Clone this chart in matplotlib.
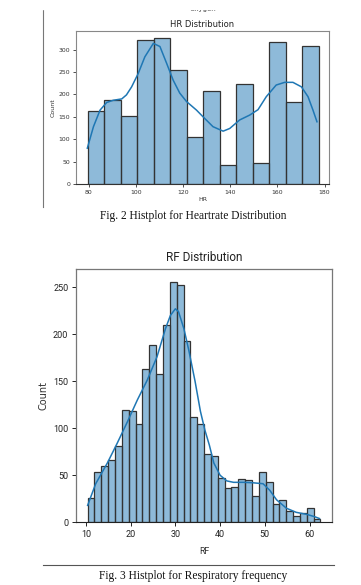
import numpy as np
import matplotlib.pyplot as plt

# HR histogram (14 bins)
hr_edges = [79.5, 86.5, 93.5, 100.5, 107.5, 114.5, 121.5, 128.5, 135.5, 142.5, 149.5, 156.5, 163.5, 170.5, 177.5]
hr_counts = [162, 187, 152, 321, 325, 254, 104, 207, 42, 224, 46, 316, 184, 308]
# HR kde curve
hr_kde_x = [79.4, 82, 84.8, 87.6, 90.4, 94, 96, 98.2, 101, 103.8, 107.4, 110.2, 113, 115.8, 118.6,
            121.5, 125.7, 128.5, 132.7, 137, 139.8, 144, 148.3, 151.8, 155.3, 159.5, 163.1, 166.6,
            170.2, 173, 175.1, 176.8]
hr_kde_y = [80, 128, 165, 182, 187, 190, 199, 217, 247, 284, 314, 307, 270, 232, 203,
            184, 165, 150, 128, 118, 124, 143, 154, 166, 195, 221, 227, 227,
            217, 195, 165, 139]

# RF histogram (34 bins)
rf_lo, rf_width = 10.4, 1.53
rf_counts = [26, 53, 60, 66, 81, 119, 118, 104, 163, 188, 158, 210, 256, 252, 193, 112, 104,
             73, 71, 47, 37, 38, 46, 45, 28, 54, 43, 19, 24, 12, 7, 10, 15, 4]
rf_kde_x = [10.4, 12.2, 14.8, 17.0, 19.3, 21.5, 23.7, 25.9, 27.8, 28.9, 30.0, 30.7, 31.9, 33.0,
            34.4, 35.6, 36.6, 37.6, 38.6, 40.0, 41.5, 43.0, 45.2, 47.4, 49.6, 51.1, 52.6,
            54.8, 57.0, 59.3, 61.1, 62.2]
rf_kde_y = [18, 41, 63, 84, 107, 130, 151, 176, 206, 220, 227, 224, 206, 183,
            150, 118, 98, 82, 63, 50, 44, 42.5, 42.5, 42, 41, 34, 24,
            15, 10.6, 8.5, 6, 4]

W, H = 361, 585
fig = plt.figure(figsize=(W / 100, H / 100), dpi=100)

narrow = 'Roboto'
serif = 'Liberation Serif'

bar_face = (0.122, 0.467, 0.706, 0.5)
bar_edge = '#333333'
line_col = '#1f77b4'


def px_axes(l, t, r, b):
    return fig.add_axes([l / W, 1 - b / H, (r - l) / W, (b - t) / H])


# ---- HR chart ----
ax1 = px_axes(76, 31.3, 329, 184)
ax1.bar(hr_edges[:-1], hr_counts, width=np.diff(hr_edges), align='edge',
        color=bar_face, edgecolor=bar_edge, linewidth=0.9)
ax1.plot(hr_kde_x, hr_kde_y, color=line_col, lw=1.1)
ax1.set_xlim(74.6, 181.9)
ax1.set_ylim(0, 341)
ax1.set_xticks(np.arange(80, 181, 20))
ax1.set_yticks(np.arange(0, 301, 50))
ax1.tick_params(labelsize=4.4, length=2.5, width=0.6, pad=1.5, colors='#333333')
ax1.set_title('HR Distribution', fontsize=6, pad=3, color='#222222')
ax1.set_xlabel('HR', fontsize=4.5, labelpad=2, color='#333333')
ax1.set_ylabel('Count', fontsize=4.5, labelpad=2, color='#333333')
for s in ['top', 'right', 'left']:
    ax1.spines[s].set_color('#888888')
    ax1.spines[s].set_linewidth(0.8)
ax1.spines['bottom'].set_color('#333333')

# ---- RF chart ----
ax2 = px_axes(76, 269.3, 332, 522.3)
rf_left = [rf_lo + i * rf_width for i in range(len(rf_counts))]
ax2.bar(rf_left, rf_counts, width=rf_width, align='edge',
        color=bar_face, edgecolor=bar_edge, linewidth=0.9)
ax2.plot(rf_kde_x, rf_kde_y, color=line_col, lw=1.1)
ax2.set_xlim(7.8, 65.0)
ax2.set_ylim(0, 269)
ax2.set_xticks(np.arange(10, 61, 10))
ax2.set_yticks(np.arange(0, 251, 50))
ax2.tick_params(labelsize=6.5, length=3, width=0.7, pad=2.5, colors='#222222')
for lab in ax2.get_xticklabels() + ax2.get_yticklabels():
    lab.set_family(narrow)
ax2.set_title('RF Distribution', fontsize=8.5, pad=6, family=narrow, color='#222222')
ax2.set_xlabel('RF', fontsize=6.3, labelpad=6, family=narrow, color='#333333')
ax2.set_ylabel('Count', fontsize=7, labelpad=3, color='#333333', fontweight='medium')
for s in ['top', 'right', 'left']:
    ax2.spines[s].set_color('#777777')
    ax2.spines[s].set_linewidth(0.9)
ax2.spines['bottom'].set_color('#222222')

# ---- document bits ----
fig.add_artist(plt.Line2D([43 / W, 43 / W], [1 - 10 / H, 1 - 207 / H], color='#777777', lw=0.8))
fig.add_artist(plt.Line2D([43 / W, 334 / W], [1 - 565 / H, 1 - 565 / H], color='#555555', lw=0.8))
fig.text(203 / W, 1 - 11 / H, 'Oxygen', fontsize=5, ha='center', va='baseline', color='#333333')
fig.add_artist(plt.Rectangle((0, 1 - 9 / H), 1, 9 / H, color='white', zorder=10))

fig.text(193 / W, 1 - 216 / H, 'Fig. 2 Histplot for Heartrate Distribution', family=serif,
         fontsize=8.3, ha='center', va='center', color='#111111')
fig.text(193 / W, 1 - 576 / H, 'Fig. 3 Histplot for Respiratory frequency', family=serif,
         fontsize=8.3, ha='center', va='center', color='#111111')

fig.savefig('out.png', dpi=100)
